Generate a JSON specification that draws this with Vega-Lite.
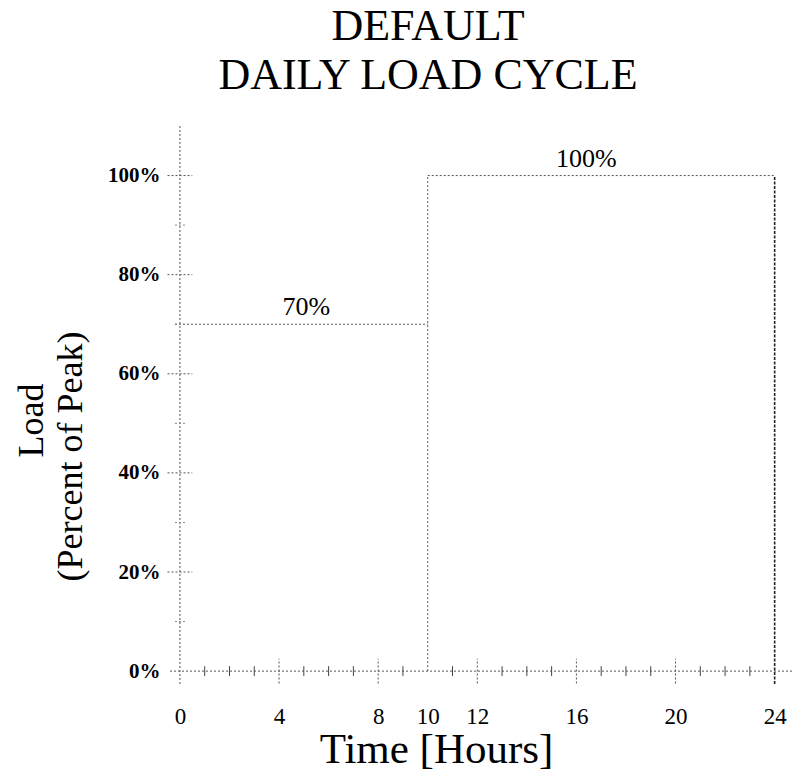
{
  "$schema": "https://vega.github.io/schema/vega-lite/v6.json",
  "width": 622,
  "height": 558,
  "autosize": {"type": "none"},
  "padding": {"left": 170, "top": 126, "right": 0, "bottom": 88},
  "background": "white",
  "config": {"view": {"stroke": null}, "font": "Liberation Serif"},
  "title": {
    "text": ["DEFAULT", "DAILY LOAD CYCLE"],
    "font": "Liberation Serif",
    "fontSize": 44,
    "fontWeight": "normal",
    "lineHeight": 49,
    "anchor": "middle",
    "frame": "group",
    "dx": -53,
    "offset": 28,
    "color": "black"
  },
  "resolve": {"axis": {"y": "independent"}},
  "datasets": {
    "segments": [
      {"part": "x-axis", "x": -0.4, "x2": 24.7, "y": 0, "y2": 0},
      {"part": "y-axis", "x": 0, "x2": 0, "y": -2.6, "y2": 110},
      {"part": "load-70", "x": -0.2, "x2": 10, "y": 70, "y2": 70},
      {"part": "step-10", "x": 10, "x2": 10, "y": 0, "y2": 100},
      {"part": "load-100", "x": 10, "x2": 24, "y": 100, "y2": 100}
    ],
    "end": [{"x": 24, "y": -2.6, "y2": 100}],
    "xminor": [{"h": 1}, {"h": 2}, {"h": 3}, {"h": 5}, {"h": 6}, {"h": 7}, {"h": 9}, {"h": 11}, {"h": 13}, {"h": 14}, {"h": 15}, {"h": 17}, {"h": 18}, {"h": 19}, {"h": 21}, {"h": 22}, {"h": 23}],
    "xmajor": [{"h": 4}, {"h": 8}, {"h": 12}, {"h": 16}, {"h": 20}],
    "yminor": [{"p": 10}, {"p": 30}, {"p": 50}, {"p": 70}, {"p": 90}],
    "ymajor": [{"p": 20}, {"p": 40}, {"p": 60}, {"p": 80}, {"p": 100}],
    "labels": [
      {"x": 5.1, "y": 70, "label": "70%"},
      {"x": 16.4, "y": 100, "label": "100%"}
    ]
  },
  "layer": [
    {
      "data": {"name": "segments"},
      "mark": {"type": "rule", "color": "#555", "strokeDash": [2, 2], "strokeWidth": 1},
      "encoding": {
        "x": {
          "field": "x", "type": "quantitative",
          "scale": {"domain": [-0.4, 24.7], "nice": false, "zero": false},
          "axis": {
            "values": [0, 4, 8, 10, 12, 16, 20, 24],
            "domain": false, "ticks": false, "grid": false,
            "labelFont": "Liberation Serif", "labelFontSize": 23, "labelColor": "black",
            "labelPadding": 21,
            "title": "Time [Hours]",
            "titleFont": "Liberation Serif", "titleFontSize": 43, "titleFontWeight": "normal",
            "titleColor": "black",
            "titleX": 266, "titleY": 78, "titleBaseline": "alphabetic", "titleAnchor": "middle"
          }
        },
        "x2": {"field": "x2"},
        "y": {
          "field": "y", "type": "quantitative",
          "scale": {"domain": [-2.6, 110], "nice": false, "zero": false},
          "axis": {
            "orient": "left",
            "values": [0, 20, 40, 60, 80, 100],
            "labelExpr": "datum.value + '%'",
            "domain": false, "ticks": false, "grid": false,
            "labelFont": "Liberation Serif", "labelFontSize": 21, "labelFontWeight": "bold",
            "labelColor": "black", "labelPadding": 10,
            "title": "(Percent of Peak)",
            "titleFont": "Liberation Serif", "titleFontSize": 36, "titleFontWeight": "normal",
            "titleColor": "black",
            "titleX": -89, "titleY": 330, "titleBaseline": "alphabetic", "titleAnchor": "middle"
          }
        },
        "y2": {"field": "y2"}
      }
    },
    {
      "data": {"name": "end"},
      "mark": {"type": "rule", "color": "#222", "strokeDash": [3, 1.5], "strokeWidth": 1.6},
      "encoding": {
        "x": {"field": "x", "type": "quantitative"},
        "y": {
          "field": "y", "type": "quantitative",
          "axis": {
            "orient": "left",
            "labels": false, "domain": false, "ticks": false, "grid": false,
            "title": "Load",
            "titleFont": "Liberation Serif", "titleFontSize": 36, "titleFontWeight": "normal",
            "titleColor": "black",
            "titleX": -128, "titleY": 294, "titleBaseline": "alphabetic", "titleAnchor": "middle"
          }
        },
        "y2": {"field": "y2"}
      }
    },
    {
      "data": {"name": "xminor"},
      "mark": {"type": "rule", "color": "#444", "strokeWidth": 1},
      "encoding": {
        "x": {"field": "h", "type": "quantitative"},
        "y": {"datum": -1, "type": "quantitative", "axis": null},
        "y2": {"datum": 1}
      }
    },
    {
      "data": {"name": "xmajor"},
      "mark": {"type": "rule", "color": "#555", "strokeDash": [2, 2], "strokeWidth": 1},
      "encoding": {
        "x": {"field": "h", "type": "quantitative"},
        "y": {"datum": -2.5, "type": "quantitative", "axis": null},
        "y2": {"datum": 2.5}
      }
    },
    {
      "data": {"name": "yminor"},
      "mark": {"type": "rule", "color": "#888", "strokeDash": [2, 2], "strokeWidth": 1},
      "encoding": {
        "y": {"field": "p", "type": "quantitative", "axis": null},
        "x": {"datum": -0.2},
        "x2": {"datum": 0.28}
      }
    },
    {
      "data": {"name": "ymajor"},
      "mark": {"type": "rule", "color": "#555", "strokeDash": [2, 2], "strokeWidth": 1},
      "encoding": {
        "y": {"field": "p", "type": "quantitative", "axis": null},
        "x": {"datum": -0.5},
        "x2": {"datum": 0.5}
      }
    },
    {
      "data": {"name": "labels"},
      "mark": {"type": "text", "font": "Liberation Serif", "fontSize": 26, "color": "black", "baseline": "alphabetic", "align": "center", "dy": -9},
      "encoding": {
        "x": {"field": "x", "type": "quantitative"},
        "y": {"field": "y", "type": "quantitative", "axis": null},
        "text": {"field": "label"}
      }
    }
  ]
}
